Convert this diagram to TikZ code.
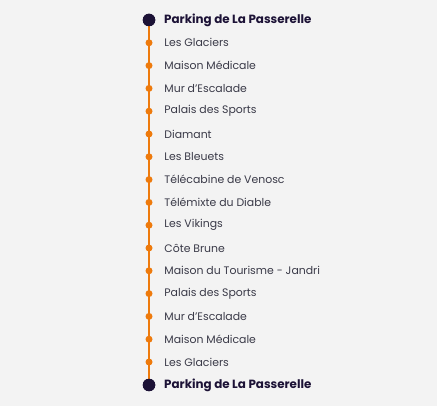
\documentclass[tikz,border=0pt]{standalone}
\usepackage{fontspec}
\setmainfont{Poppins}
\usetikzlibrary{positioning}
\definecolor{linecol}{HTML}{EE7A0C}
\definecolor{endcol}{HTML}{1C1236}
\definecolor{bgcol}{HTML}{F3F3F3}
\definecolor{txtcol}{HTML}{3A3A48}

\begin{document}
\begin{tikzpicture}[
            x=1pt, y=-1pt,
            stop/.style={circle, fill=linecol, inner sep=0pt, minimum size=7pt},
            terminus/.style={circle, fill=endcol, inner sep=0pt, minimum size=12.5pt},
            label/.style={anchor=west, inner sep=0pt, text=txtcol, font=\fontsize{10.9}{13}\selectfont},
            biglabel/.style={anchor=west, inner sep=0pt, text=endcol, font=\fontsize{11.9}{13}\selectfont\bfseries}
        ]

        \fill[bgcol] (0,0) rectangle (437,406);
        \useasboundingbox (0,0) rectangle (437,406);

        \node[terminus] (first) at (149,20) {};
        \node[terminus] (last) at (149,385) {};
        \draw[linecol, line width=1.3pt] (first) -- (last);
        \node[terminus] at (first) {};
        \node[terminus] at (last) {};

        \node[biglabel] (firstname) at (164,20) {Parking de La Passerelle};
        \node[biglabel] (lastname) at (164,385) {Parking de La Passerelle};

        \foreach \name [count=\i] in {Les Glaciers, Maison Médicale, Mur d'Escalade, Palais des Sports,
            Diamant, Les Bleuets, Télécabine de Venosc, Télémixte du Diable, Les Vikings, Côte Brune,
            Maison du Tourisme - Jandri, Palais des Sports, Mur d'Escalade, Maison Médicale, Les Glaciers}
        {
            \node[stop] (stop\i) at (149,{20+\i*22.8}) {};
            \node[label, right=11.5pt of stop\i] (name\i) {\name};
        }

    \end{tikzpicture}
\end{document}
